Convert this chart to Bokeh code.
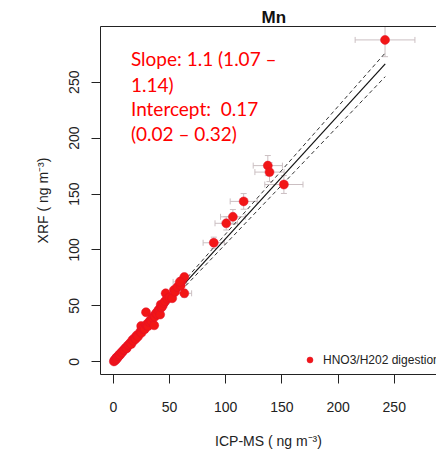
from bokeh.plotting import figure
from bokeh.models import (Range1d, FixedTicker, LinearAxis, Label, Whisker,
                          TeeHead, ColumnDataSource)
from bokeh.embed import file_html
from bokeh.resources import INLINE

# ---- data ----
big_x = [241.8, 151.8, 137.5, 139.0, 116.0, 106.4, 100.5, 89.4, 63.2, 59.2]
big_y = [287.8, 158.5, 175.4, 169.6, 143.4, 129.6, 123.8, 106.4, 61.2, 71.4]
big_xerr = [26.6, 17.0, 13.0, 13.0, 12.0, 11.0, 10.0, 9.5, 6.5, 6.0]
big_yerr = [15.0, 8.0, 9.0, 8.5, 7.0, 6.5, 6.0, 5.0, 3.5, 3.5]

small_x = [0.5, 1.0, 1.5, 2.0, 2.5, 3.0, 3.5, 4.0, 5.0, 5.5, 6.0, 7.0, 8.0, 9.0,
           10.0, 11.0, 12.0, 13.0, 14.0, 15.0, 16.0, 17.0, 18.0, 19.0, 20.0,
           21.0, 22.0, 24.0, 24.8, 25.0, 26.0, 27.0, 28.0, 29.1, 29.5, 30.0,
           31.0, 32.0, 33.0, 34.0, 35.0, 36.4, 36.5, 37.0, 38.0, 39.0, 40.0,
           41.0, 41.7, 42.2, 43.0, 44.0, 45.0, 46.0, 46.6, 48.0, 50.0, 52.4,
           53.9, 55.0, 57.0, 60.0, 61.0, 63.2]
small_y = [0.3, 1.5, 1.0, 2.6, 2.2, 3.8, 3.2, 4.9, 5.2, 6.5, 6.1, 8.2, 8.5, 10.4,
           10.8, 12.5, 12.1, 14.6, 15.2, 16.8, 15.9, 19.5, 18.7, 21.4, 20.5,
           23.8, 22.6, 26.9, 32.0, 25.8, 29.5, 30.2, 29.1, 44.3, 32.5, 33.8,
           31.9, 35.6, 37.2, 36.1, 39.4, 32.6, 41.2, 40.3, 43.5, 42.4, 45.8,
           47.2, 42.2, 51.0, 48.6, 50.2, 52.5, 54.1, 61.2, 56.3, 57.5, 56.8,
           64.1, 62.5, 66.8, 68.2, 72.5, 75.8]

fit_x = [0, 242]
fit_y = [0.17, 266.4]
upper_y = [0.32, 276.2]
lower_y = [0.02, 255.0]

x_ticks = [0, 50, 100, 150, 200, 250]
y_ticks = [0, 50, 100, 150, 200, 250]

notes = ["Slope: 1.1 (1.07 \u2013", "1.14)", "Intercept:\u00a0 0.17",
         "(0.02 \u2013 0.32)"]
note_y = [271.0, 248.3, 226.4, 204.5]

# ---- figure ----
p = figure(width=436, height=451,
           x_range=Range1d(-11.4, 287.6), y_range=Range1d(-11.4, 299.8),
           output_backend="svg", toolbar_location=None,
           min_border_left=100, min_border_right=0,
           min_border_top=26, min_border_bottom=75)
p.outline_line_color = None
p.xgrid.visible = False
p.ygrid.visible = False
p.background_fill_color = "white"

p.title.text = "Mn"
p.title.align = "left"
p.title.offset = 161
p.title.standoff = 0
p.title.text_font = "Liberation Sans"
p.title.text_font_style = "bold"
p.title.text_font_size = "17px"
p.title.text_color = "#111111"

for ax, ticks in ((p.xaxis[0], x_ticks), (p.yaxis[0], y_ticks)):
    ax.ticker = FixedTicker(ticks=ticks)
    ax.minor_tick_line_color = None
    ax.major_tick_in = 0
    ax.major_tick_out = 9
    ax.axis_line_color = "#222222"
    ax.major_tick_line_color = "#222222"
    ax.major_label_text_font = "Liberation Sans"
    ax.major_label_text_font_size = "14px"
    ax.major_label_text_color = "#222222"
    ax.axis_label_text_font = "Liberation Sans"
    ax.axis_label_text_font_size = "14px"
    ax.axis_label_text_font_style = "normal"
    ax.axis_label_text_color = "#222222"

p.xaxis.axis_label = "ICP-MS ( ng m\u207b\u00b3)"
p.xaxis.major_label_standoff = 18
p.xaxis.axis_label_standoff = 18
p.yaxis.axis_label = "XRF ( ng m\u207b\u00b3)"
p.yaxis.major_label_orientation = "vertical"
p.yaxis.major_label_standoff = 12
p.yaxis.axis_label_standoff = 16

top = LinearAxis(ticker=FixedTicker(ticks=[]), major_label_text_font_size="0px",
                 axis_line_color="#222222", major_tick_line_color=None,
                 minor_tick_line_color=None, major_label_standoff=0)
p.add_layout(top, "above")

# error bars
src_err = ColumnDataSource(dict(
    x=big_x, y=big_y,
    xl=[a - b for a, b in zip(big_x, big_xerr)],
    xu=[a + b for a, b in zip(big_x, big_xerr)],
    yl=[a - b for a, b in zip(big_y, big_yerr)],
    yu=[a + b for a, b in zip(big_y, big_yerr)],
))
err_col = "#cbbfc2"
p.add_layout(Whisker(source=src_err, base="y", lower="xl", upper="xu",
                     dimension="width", line_color=err_col, line_width=1,
                     lower_head=TeeHead(size=6, line_color=err_col),
                     upper_head=TeeHead(size=6, line_color=err_col)))
p.add_layout(Whisker(source=src_err, base="x", lower="yl", upper="yu",
                     dimension="height", line_color=err_col, line_width=1,
                     lower_head=TeeHead(size=6, line_color=err_col),
                     upper_head=TeeHead(size=6, line_color=err_col)))

# regression lines
p.line(fit_x, fit_y, line_color="#111111", line_width=1.2)
p.line(fit_x, upper_y, line_color="#333333", line_width=1, line_dash="4 3")
p.line(fit_x, lower_y, line_color="#333333", line_width=1, line_dash="4 3")

# points
pts = p.scatter(small_x + big_x, small_y + big_y, size=9, fill_color="#f21616",
                line_color="#e0102a", line_width=0.5,
                legend_label="HNO3/H202 digestion")

p.legend.location = (202, 7)
p.legend.border_line_color = None
p.legend.background_fill_alpha = 0
p.legend.padding = 0
p.legend.margin = 0
p.legend.glyph_width = 15
p.legend.glyph_height = 15
p.legend.label_standoff = 6
p.legend.label_text_font = "Liberation Sans"
p.legend.label_text_font_size = "12px"
p.legend.label_text_color = "#222222"

# annotation
for t, yy in zip(notes, note_y):
    p.add_layout(Label(x=15.7, y=yy, text=t, text_align="left",
                       text_baseline="alphabetic", text_font="Lato",
                       text_font_size="19px", text_color="#ff0000"))

open("out.html", "w").write(file_html(p, INLINE))
